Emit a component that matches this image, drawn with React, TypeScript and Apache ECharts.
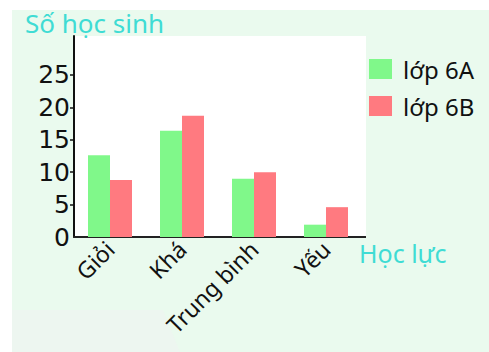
import React, { useEffect, useRef } from "react";
import * as echarts from "echarts";

const categories = ["Giỏi", "Khá", "Trung bình", "Yếu"];
const seriesNames = ["lớp 6A", "lớp 6B"];
const class6A = [12.6, 16.4, 9, 1.9];
const class6B = [8.8, 18.7, 10, 4.6];
const yTickLabels = [0, 5, 10, 15, 20, 25];
const yAxisTitle = "Số học sinh";
const xAxisTitle = "Học lực";

export default function App() {
  const ref = useRef<HTMLDivElement>(null);
  useEffect(() => {
    const chart = echarts.init(ref.current as HTMLDivElement, null, { renderer: "svg" });
    const font = "Noto Sans";
    chart.setOption({
      animation: false,
      backgroundColor: "#ffffff",
      graphic: [
        { type: "rect", z: -10, shape: { x: 12, y: 10, width: 477, height: 342 }, style: { fill: "#EAFAEE" } },
        { type: "polygon", z: -9, shape: { points: [[12, 310], [163, 310], [180, 352], [12, 352]] }, style: { fill: "#EDF6F0" } },
        { type: "rect", z: -8, shape: { x: 74, y: 36, width: 292, height: 201 }, style: { fill: "#ffffff" } },
        { type: "line", z: 5, shape: { x1: 360, y1: 237, x2: 366, y2: 237 }, style: { stroke: "#222", lineWidth: 2 } },
      ],
      title: {
        text: yAxisTitle,
        left: 25,
        top: 10,
        padding: 0,
        textStyle: { color: "#3FDCD4", fontSize: 26, fontWeight: "normal", fontFamily: font },
      },
      legend: {
        data: seriesNames,
        orient: "vertical",
        left: 369,
        top: 57,
        padding: 0,
        itemWidth: 23,
        itemHeight: 20,
        itemGap: 13,
        icon: "rect",
        textStyle: { fontSize: 24, color: "#111", fontFamily: font, padding: [0, 0, 0, 6] },
      },
      grid: { left: 74, top: 36, width: 288, height: 201, containLabel: false },
      xAxis: {
        type: "category",
        data: categories,
        name: xAxisTitle,
        nameLocation: "end",
        nameGap: -3,
        nameTextStyle: {
          color: "#3FDCD4",
          fontSize: 25,
          fontFamily: font,
          align: "left",
          verticalAlign: "top",
          padding: [3, 0, 0, 0],
        },
        axisLine: { show: true, lineStyle: { color: "#222", width: 2 } },
        axisTick: { show: false },
        axisLabel: { rotate: 45, fontSize: 23, color: "#111", fontFamily: font, margin: 8, interval: 0 },
      },
      yAxis: {
        type: "value",
        min: 0,
        max: 31,
        interval: 5,
        splitLine: { show: false },
        axisLine: { show: true, lineStyle: { color: "#111", width: 2 } },
        axisTick: { show: true, length: 4, lineStyle: { color: "#111", width: 1.5 }, customValues: [5, 10, 15, 20, 25] },
        axisLabel: { fontSize: 25, color: "#111", fontFamily: "DejaVu Sans", margin: 4, customValues: yTickLabels },
      },
      series: [
        { name: seriesNames[0], type: "bar", data: class6A, barWidth: 22, barGap: "0%", itemStyle: { color: "#80F88A" } },
        { name: seriesNames[1], type: "bar", data: class6B, barWidth: 22, barGap: "0%", itemStyle: { color: "#FF7A80" } },
      ],
    });
    return () => chart.dispose();
  }, []);
  return <div ref={ref} style={{ position: "absolute", left: 0, top: 0, width: 489, height: 352 }} />;
}
